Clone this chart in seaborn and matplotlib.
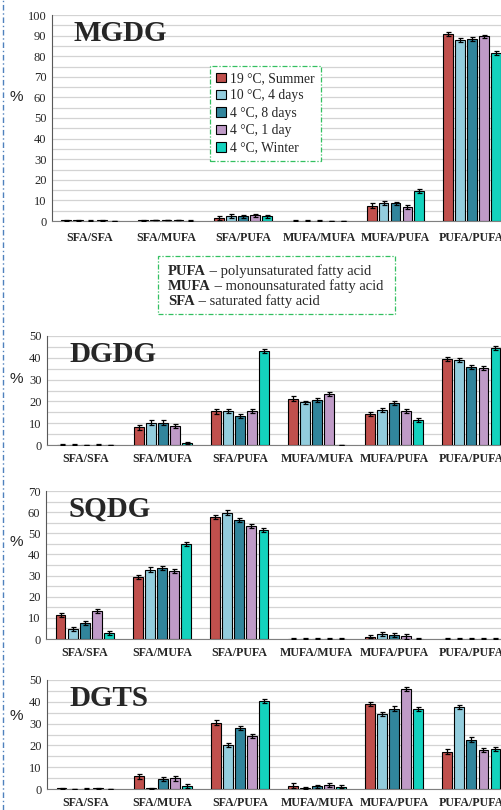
import numpy as np
import pandas as pd
import matplotlib
matplotlib.use('Agg')  # no display
import matplotlib.pyplot as plt
from matplotlib.patches import Patch, Rectangle
from matplotlib.lines import Line2D
import seaborn as sns

PAIRS = ['SFA/SFA', 'SFA/MUFA', 'SFA/PUFA', 'MUFA/MUFA', 'MUFA/PUFA', 'PUFA/PUFA']
CONDITIONS = ['19 °C, Summer', '10 °C, 4 days', '4 °C, 8 days', '4 °C, 1 day', '4 °C, Winter']
COLORS = ['#C0504D', '#93CDDD', '#31859C', '#BF9BC7', '#14D2BE']

# rows = conditions, columns = fatty acid pairs
MGDG_MEAN = [
    [0.3, 0.3, 1.5, 0.2, 7.5, 90.8],
    [0.3, 0.6, 2.5, 0.2, 8.6, 87.9],
    [0.2, 0.5, 2.2, 0.2, 8.5, 88.5],
    [0.3, 0.4, 2.8, 0.1, 6.9, 89.6],
    [0.1, 0.2, 2.2, 0.1, 14.4, 81.4],
]
MGDG_ERR = [
    [0.1, 0.1, 0.8, 0.1, 1.0, 0.9],
    [0.1, 0.1, 0.9, 0.1, 0.9, 0.9],
    [0.1, 0.1, 0.8, 0.1, 0.9, 0.9],
    [0.1, 0.1, 0.8, 0.1, 0.9, 0.9],
    [0.1, 0.1, 0.8, 0.1, 0.9, 0.9],
]
DGDG_MEAN = [
    [0.2, 8.1, 15.4, 21.3, 14.1, 39.4],
    [0.2, 10.2, 15.5, 19.6, 16.2, 38.8],
    [0.1, 10.3, 13.4, 20.5, 19.4, 35.6],
    [0.2, 8.7, 15.5, 23.4, 15.4, 35.4],
    [0.1, 0.9, 43.1, 0.1, 11.6, 44.6],
]
DGDG_ERR = [
    [0.1, 1.0, 1.0, 1.0, 0.9, 0.9],
    [0.1, 1.1, 0.9, 0.8, 0.9, 0.9],
    [0.1, 1.0, 0.9, 0.9, 0.9, 0.9],
    [0.1, 0.9, 0.9, 1.0, 0.9, 0.9],
    [0.1, 0.3, 0.9, 0.1, 0.9, 0.9],
]
SQDG_MEAN = [
    [11.2, 29.2, 57.6, 0.2, 1.1, 0.2],
    [4.7, 32.8, 59.8, 0.2, 2.2, 0.2],
    [7.4, 33.4, 56.3, 0.2, 2.0, 0.2],
    [13.1, 32.0, 53.3, 0.2, 1.2, 0.2],
    [2.8, 44.9, 51.6, 0.2, 0.2, 0.2],
]
SQDG_ERR = [
    [1.0, 1.0, 1.0, 0.1, 0.8, 0.1],
    [1.0, 1.1, 1.0, 0.1, 1.0, 0.1],
    [1.0, 1.0, 1.0, 0.1, 1.0, 0.1],
    [1.0, 1.0, 0.9, 0.1, 1.0, 0.1],
    [1.1, 1.0, 1.0, 0.1, 0.1, 0.1],
]
DGTS_MEAN = [
    [0.3, 5.9, 30.5, 1.6, 38.9, 17.2],
    [0.1, 0.3, 20.3, 0.4, 34.3, 37.5],
    [0.2, 4.6, 27.9, 1.2, 36.9, 22.7],
    [0.3, 4.9, 24.5, 1.7, 45.7, 18.1],
    [0.1, 1.4, 40.5, 1.1, 36.6, 18.4],
]
DGTS_ERR = [
    [0.1, 1.1, 1.0, 1.0, 1.0, 1.0],
    [0.1, 0.1, 1.0, 0.3, 1.0, 1.0],
    [0.1, 1.0, 1.0, 0.7, 1.0, 1.0],
    [0.1, 1.1, 0.9, 0.9, 0.9, 0.9],
    [0.1, 0.9, 1.0, 0.7, 1.0, 0.9],
]

PANELS = [
    # name, mean, err, ymax, axes rect in px (left, top, right, bottom), % label y px
    ('MGDG', MGDG_MEAN, MGDG_ERR, 100, (52, 15, 510, 221), 97),
    ('DGDG', DGDG_MEAN, DGDG_ERR, 50, (47, 336, 510, 445), 379),
    ('SQDG', SQDG_MEAN, SQDG_ERR, 70, (46, 491, 510, 639), 542),
    ('DGTS', DGTS_MEAN, DGTS_ERR, 50, (47, 680, 510, 789), 716),
]

W, H = 501, 810
SERIF = ['Liberation Serif', 'DejaVu Serif']

sns.set_style('white')
plt.rcParams['font.family'] = SERIF

fig = plt.figure(figsize=(W / 100, H / 100), dpi=100)


def long_table(mean):
    rows = []
    for ci, cond in enumerate(CONDITIONS):
        for pi, pair in enumerate(PAIRS):
            rows.append({'pair': pair, 'condition': cond, 'value': mean[ci][pi]})
    return pd.DataFrame(rows)


for name, mean, err, ymax, (l, t, r, b), pct_y in PANELS:
    ax = fig.add_axes([l / W, 1 - b / H, (r - l) / W, (b - t) / H])
    df = long_table(mean)
    sns.barplot(data=df, x='pair', y='value', hue='condition',
                order=PAIRS, hue_order=CONDITIONS, palette=COLORS,
                saturation=1, width=0.78, gap=0.18, edgecolor='black',
                linewidth=0.8, errorbar=None, legend=False, ax=ax, zorder=3)

    # error bars on top of each bar
    bar_conts = list(ax.containers)
    for ci, cont in enumerate(bar_conts):
        for pi, bar in enumerate(cont):
            x = bar.get_x() + bar.get_width() / 2
            ax.errorbar(x, mean[ci][pi], yerr=err[ci][pi], fmt='none',
                        ecolor='black', elinewidth=0.9, capsize=1.8,
                        capthick=0.9, zorder=4)

    ax.set_xlim(-0.5, 5.5)
    ax.set_ylim(0, ymax)
    ax.set_yticks(np.arange(0, ymax + 1, 10))
    ax.set_yticks(np.arange(0, ymax + 1, 5), minor=True)
    ax.yaxis.grid(True, which='both', color='#D3D3D3', linewidth=0.9)
    ax.set_axisbelow(True)
    ax.set_xlabel('')
    ax.set_ylabel('')
    for s in ['top', 'right']:
        ax.spines[s].set_visible(False)
    ax.spines['left'].set_color('#595959')
    ax.spines['bottom'].set_color('#7F7F7F')
    ax.tick_params(axis='y', which='major', direction='in', length=3,
                   color='#595959', labelsize=9, pad=4)
    ax.tick_params(axis='y', which='minor', length=0)
    ax.tick_params(axis='x', length=0, pad=8 if name == 'MGDG' else 6)
    for lab in ax.get_xticklabels():
        lab.set_fontweight('bold')
        lab.set_fontsize(8.6)

    fig.text((l + 22) / W, 1 - (t + 26) / H, name, fontsize=21,
             fontweight='bold', va='baseline', ha='left')
    fig.text(16 / W, 1 - pct_y / H, '%', fontsize=11, va='center',
             ha='center', family=['Liberation Sans', 'DejaVu Sans'])

    if name == 'MGDG':
        handles = [Patch(facecolor=c, edgecolor='black', linewidth=0.8)
                   for c in COLORS]
        leg = ax.legend(handles, CONDITIONS, loc='upper left',
                        bbox_to_anchor=(210 / W, 1 - 66 / H),
                        bbox_transform=fig.transFigure, borderaxespad=0,
                        fontsize=9.8, handlelength=0.7, handleheight=0.7,
                        handletextpad=0.35, labelspacing=0.32,
                        borderpad=0.45, fancybox=False, framealpha=1)
        frame = leg.get_frame()
        frame.set_edgecolor('#33C060')
        frame.set_linewidth(0.9)
        frame.set_linestyle((0, (4, 1.5, 1, 1.5)))

# abbreviation box between the first two panels
fig.add_artist(Rectangle((158 / W, 1 - 314 / H), (395 - 158) / W, 58 / H,
                         transform=fig.transFigure, fill=False,
                         edgecolor='#33C060', linewidth=0.9,
                         linestyle=(0, (4, 1.5, 1, 1.5))))
ABBR = [('PUFA', ' – polyunsaturated fatty acid'),
        ('MUFA', ' – monounsaturated fatty acid'),
        ('SFA', ' – saturated fatty acid')]
renderer = fig.canvas.get_renderer()
for k, (word, rest) in enumerate(ABBR):
    y = 1 - (275 + 15 * k) / H
    bold = fig.text(168 / W, y, word, fontsize=10.5, fontweight='bold',
                    va='baseline', ha='left')
    bb = bold.get_window_extent(renderer=renderer)
    fig.text(bb.x1 / W, y, rest, fontsize=10.5, va='baseline', ha='left')

# dash-dot page margin line on the left
fig.add_artist(Line2D([3 / W, 3 / W], [0, 1], transform=fig.transFigure,
                      color='#4F81BD', linewidth=1,
                      linestyle=(0, (4, 2, 1, 2))))

fig.savefig('out.png', dpi=100)
